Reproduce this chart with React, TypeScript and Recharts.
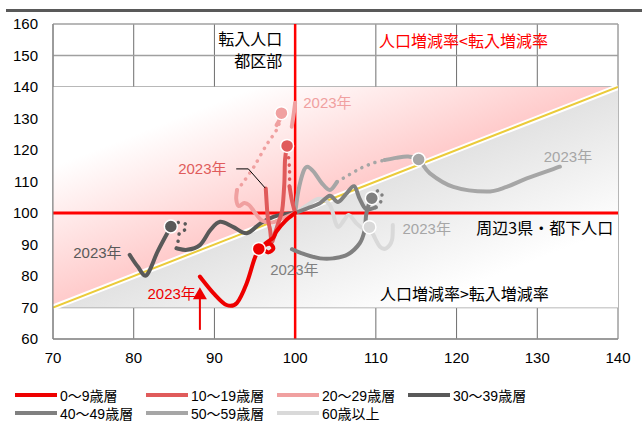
import React from 'react'
import {
  ComposedChart,
  XAxis,
  YAxis,
  CartesianGrid,
  Line,
  Area,
  ReferenceLine,
  ReferenceDot,
} from 'recharts'

type Pt = { x: number; y: number }
const pts = (a: number[][]): Pt[] => a.map(([x, y]) => ({ x, y }))

const xTicks = [70, 80, 90, 100, 110, 120, 130, 140]
const yTicks = [60, 70, 80, 90, 100, 110, 120, 130, 140, 150, 160]

// x: 転入増減率(指数), y: 人口増減率(指数) — each path runs from the base year to 2023
const age0Path = pts([
  [100, 100], [98.8, 97.5], [97.7, 94.2], [97.3, 92.2], [96.3, 90.3], [96.1, 88.6],
  [96.7, 87.5], [97.3, 88.7], [96.9, 90.2], [96.1, 89.6], [95.5, 88.6], [94.9, 85.0],
  [94.0, 77.7], [92.8, 71.5], [91.5, 70.8], [89.9, 74.5], [88.2, 79.8],
])
const age0Mark = { x: 95.5, y: 88.6 }

const age10PathA = pts([[100, 100], [99.6, 104], [99.3, 108.5]])
const age10Dotted = pts([[99.3, 108.5], [99.3, 114], [99.1, 120]])
const age10PathB = pts([
  [99.0, 121.3], [98.75, 117], [98.66, 109.4], [98.4, 101], [97.9, 96.7], [97.5, 93.6],
  [97.1, 90.8], [96.9, 94.6], [96.6, 98.8], [96.36, 107.8],
])
const age10Mark = { x: 99.0, y: 121.3 }

const age20PathA = pts([
  [100, 100], [98.6, 98.5], [97.2, 97.0], [95.9, 97.6], [95.0, 100.2], [94.3, 102.5],
  [93.7, 103.2], [93.0, 102.2], [92.7, 104.5], [92.8, 107.3],
])
const age20Dotted = pts([
  [92.8, 107.3], [93.5, 109.5], [94.9, 114.7], [96.4, 121.4], [97.8, 126.9], [98.3, 131.7],
])
const age20PathB = pts([[98.3, 130.5], [97.7, 127.9]])
const age20PathC = pts([[99.58, 127.4], [99.8, 131], [100, 135.0]])
const age20Mark = { x: 98.3, y: 131.7 }

const age30PathA = pts([
  [100, 100], [98.7, 99.6], [97.3, 98.8], [95.7, 96.7], [94.0, 93.6], [92.3, 95.6],
  [90.7, 97.2], [89.5, 94.6], [88.2, 89.8], [86.6, 88.3], [85.3, 88.8],
])
const age30Dotted = pts([
  [85.3, 88.8], [85.5, 91.1], [85.7, 93.8], [86.4, 94.8], [86.4, 96.5], [85.5, 97.0], [84.6, 95.7],
])
const age30PathB = pts([[84.6, 95.7], [83.0, 88], [81.6, 80.3], [80.5, 83], [79.5, 86.7]])
const age30Mark = { x: 84.6, y: 95.7 }

const age40PathA = pts([
  [100, 100], [101.5, 101.5], [103, 103], [104.3, 105.5], [105.3, 103.5], [106.3, 106],
  [107.3, 108.5], [108.0, 104.5], [108.8, 101.2], [110.0, 101.8],
])
const age40Dotted = pts([[110.0, 101.8], [110.7, 104.0], [110.7, 106.3], [110.2, 107.0], [109.5, 104.7]])
const age40PathB = pts([
  [109.5, 104.7], [109.1, 102.5], [108.8, 99.5], [108.6, 94.5], [108.0, 90.4], [106.5, 86.8],
  [104.7, 85.6], [103.1, 85.6], [101.3, 86.8], [99.6, 88.5],
])
const age40Mark = { x: 109.5, y: 104.7 }

const age50PathA = pts([
  [100, 100], [100.4, 107], [101.0, 113], [101.5, 114.7], [102.3, 113.1], [103.3, 109.5],
  [104.3, 107.3], [105.2, 109.9],
])
const age50Dotted = pts([[105.2, 109.9], [106.8, 112.3], [108.2, 114.3], [109.6, 115.8], [111.1, 116.8]])
const age50PathB = pts([
  [111.1, 116.8], [112.5, 117.5], [114.0, 117.9], [115.3, 117.0], [116.7, 112.6], [119.6, 108.3],
  [123.7, 106.8], [126.2, 108.3], [128.7, 111.0], [132.8, 114.7],
])
const age50Mark = { x: 115.3, y: 117.0 }

const age60Path = pts([
  [100, 100], [101.5, 102.5], [103, 104.5], [104.3, 102.5], [105.0, 97], [105.4, 95.6],
  [106.0, 97.5], [106.6, 99.4], [107.2, 98], [107.6, 96.7], [108.4, 95.2], [109.2, 95.5],
  [109.7, 93.0], [110.5, 89.3], [111.3, 88.8], [112.0, 91.4], [112.1, 96.2],
])
const age60Mark = { x: 109.2, y: 95.5 }

// shaded halves either side of the 45° line
const upperBand = [{ x: 70, band: [70, 140] }, { x: 140, band: [140, 140] }]
const lowerBand = [{ x: 70, band: [70, 70] }, { x: 140, band: [70, 140] }]
const diagonal = pts([[70, 70], [140, 140]])

// uniform Catmull-Rom through every point, used as a d3 curve factory
function catmullRom(context: any) {
  let buf: number[][] = []
  return {
    areaStart() {},
    areaEnd() {},
    lineStart() {
      buf = []
    },
    point(x: number, y: number) {
      buf.push([+x, +y])
    },
    lineEnd() {
      const n = buf.length
      if (!n) return
      context.moveTo(buf[0][0], buf[0][1])
      for (let i = 0; i < n - 1; i++) {
        const p0 = buf[Math.max(i - 1, 0)]
        const p1 = buf[i]
        const p2 = buf[i + 1]
        const p3 = buf[Math.min(i + 2, n - 1)]
        context.bezierCurveTo(
          p1[0] + (p2[0] - p0[0]) / 6,
          p1[1] + (p2[1] - p0[1]) / 6,
          p2[0] - (p3[0] - p1[0]) / 6,
          p2[1] - (p3[1] - p1[1]) / 6,
          p2[0],
          p2[1]
        )
      }
    },
  }
}

const series = [
  { name: '60歳以上', color: '#D9D9D9', solid: [age60Path], dotted: [], mark: age60Mark, label: { x: 116.3, y: 95.2, color: '#A6A6A6' } },
  { name: '50～59歳層', color: '#A6A6A6', solid: [age50PathA, age50PathB], dotted: [age50Dotted], mark: age50Mark, label: { x: 133.8, y: 117.8, color: '#A6A6A6' } },
  { name: '40～49歳層', color: '#808080', solid: [age40PathA, age40PathB], dotted: [age40Dotted], mark: age40Mark, label: { x: 99.9, y: 82.2, color: '#808080' } },
  { name: '30～39歳層', color: '#595959', solid: [age30PathA, age30PathB], dotted: [age30Dotted], mark: age30Mark, label: { x: 75.5, y: 87.6, color: '#595959' } },
  { name: '20～29歳層', color: '#F0A0A0', solid: [age20PathA, age20PathB, age20PathC], dotted: [age20Dotted], mark: age20Mark, label: { x: 104.0, y: 135.2, color: '#F0A0A0' } },
  { name: '10～19歳層', color: '#E05B5B', solid: [age10PathA, age10PathB], dotted: [age10Dotted], mark: age10Mark, label: { x: 88.5, y: 114.0, color: '#E05B5B' } },
  { name: '0～9歳層', color: '#EE0000', solid: [age0Path], dotted: [], mark: age0Mark, label: { x: 84.7, y: 74.6, color: '#EE0000' } },
]

const legendOrder = [...series].reverse()

const notes = [
  { text: '転入人口', x: 98.4, y: 155.6, anchor: 'end', color: '#000' },
  { text: '都区部', x: 98.4, y: 148.6, anchor: 'end', color: '#000' },
  { text: '人口増減率<転入増減率', x: 110.4, y: 154.9, anchor: 'start', color: '#FF0000' },
  { text: '周辺3県・都下人口', x: 139.4, y: 95.6, anchor: 'end', color: '#000' },
  { text: '人口増減率>転入増減率', x: 110.5, y: 74.6, anchor: 'start', color: '#000' },
]

const sans = '"Liberation Sans", Arial, "Noto Sans CJK JP", sans-serif'
const cjk = '"Noto Sans CJK JP", "Liberation Sans", sans-serif'

const textShape = (text: string, color: string, anchor: string, size: number, family: string) =>
  (p: any) => (
    <text
      x={p.cx}
      y={p.cy}
      textAnchor={anchor}
      dominantBaseline="central"
      fontSize={size}
      fontFamily={family}
      fill={color}
    >
      {text}
    </text>
  )

const arrowHead = (p: any) => (
  <polygon
    points={`${p.cx},${p.cy - 6} ${p.cx - 7},${p.cy + 6} ${p.cx + 7},${p.cy + 6}`}
    fill="#EE0000"
  />
)

export default function App() {
  return (
    <div style={{ position: 'absolute', left: 0, top: 0, width: 642, height: 426, background: '#fff' }}>
      <div style={{ position: 'absolute', left: 6, top: 9, width: 636, height: 3, background: '#595959' }} />
      <ComposedChart width={642} height={370} margin={{ top: 24, right: 24, left: 0, bottom: 0 }}>
        <defs>
          <linearGradient id="pinkFade" x1="1" y1="1" x2="0" y2="0">
            <stop offset="0.5" stopColor="#FFCACA" />
            <stop offset="0.82" stopColor="#FFFFFF" />
          </linearGradient>
          <linearGradient id="grayFade" x1="0" y1="0" x2="1" y2="1">
            <stop offset="0.5" stopColor="#E2E2E2" />
            <stop offset="0.82" stopColor="#FFFFFF" />
          </linearGradient>
        </defs>
        <XAxis
          type="number"
          dataKey="x"
          domain={[70, 140]}
          ticks={xTicks}
          interval={0}
          allowDataOverflow
          height={31}
          tickLine={false}
          tickMargin={7}
          axisLine={{ stroke: '#808080' }}
          tick={{ fill: '#000', fontSize: 15, fontFamily: sans }}
        />
        <YAxis
          type="number"
          dataKey="y"
          domain={[60, 160]}
          ticks={yTicks}
          interval={0}
          allowDataOverflow
          width={53}
          tickLine={false}
          tickMargin={9}
          axisLine={{ stroke: '#808080' }}
          tick={{ fill: '#000', fontSize: 15, fontFamily: sans }}
        />
        <Area data={upperBand} dataKey="band" type="linear" stroke="none" fill="url(#pinkFade)" fillOpacity={1} isAnimationActive={false} legendType="none" />
        <Area data={lowerBand} dataKey="band" type="linear" stroke="none" fill="url(#grayFade)" fillOpacity={1} isAnimationActive={false} legendType="none" />
        <CartesianGrid horizontal={false} stroke="#6E6E6E" strokeWidth={1} />
        <CartesianGrid vertical={false} stroke="#A0A0A0" strokeWidth={1.5} />
        <Line data={diagonal} dataKey="y" type="linear" stroke="#FFFFFF" strokeWidth={6} dot={false} activeDot={false} isAnimationActive={false} legendType="none" />
        <Line data={diagonal} dataKey="y" type="linear" stroke="#EBCB3A" strokeWidth={2} dot={false} activeDot={false} isAnimationActive={false} legendType="none" />
        <ReferenceLine x={100} stroke="#FF0000" strokeWidth={2.5} />
        <ReferenceLine y={100} stroke="#FF0000" strokeWidth={3} />

        {series.map((s, si) => (
          <React.Fragment key={s.name}>
            {s.solid.map((seg, i) => (
              <Line
                key={`${si}-s${i}`}
                data={seg}
                dataKey="y"
                type={catmullRom as any}
                stroke={s.color}
                strokeWidth={4}
                strokeLinecap="round"
                dot={false}
                activeDot={false}
                isAnimationActive={false}
                legendType="none"
              />
            ))}
            {s.dotted.map((seg, i) => (
              <Line
                key={`${si}-d${i}`}
                data={seg}
                dataKey="y"
                type={catmullRom as any}
                stroke={s.color}
                strokeWidth={3.5}
                strokeLinecap="round"
                strokeDasharray="0.1 7"
                dot={false}
                activeDot={false}
                isAnimationActive={false}
                legendType="none"
              />
            ))}
            <ReferenceDot x={s.mark.x} y={s.mark.y} r={6.5} fill={s.color} stroke="#FFFFFF" strokeWidth={1.5} />
            <ReferenceDot
              x={s.label.x}
              y={s.label.y}
              r={0}
              shape={textShape('2023年', s.label.color, 'middle', 15, sans)}
            />
          </React.Fragment>
        ))}

        {/* pointer to the 2023 end of 10～19 */}
        <ReferenceLine segment={[{ x: 92.7, y: 114.0 }, { x: 94.2, y: 114.0 }]} stroke="#000" strokeWidth={1} />
        <ReferenceLine segment={[{ x: 94.2, y: 114.0 }, { x: 96.3, y: 107.9 }]} stroke="#000" strokeWidth={1} />

        {/* arrow up to the 2023 end of 0～9 */}
        <ReferenceLine segment={[{ x: 88.2, y: 62.9 }, { x: 88.2, y: 73 }]} stroke="#EE0000" strokeWidth={2} />
        <ReferenceDot x={88.2} y={74.5} r={0} shape={arrowHead} />

        {notes.map((n) => (
          <ReferenceDot
            key={n.text}
            x={n.x}
            y={n.y}
            r={0}
            shape={textShape(n.text, n.color, n.anchor, 16, cjk)}
          />
        ))}
      </ComposedChart>

      <div style={{ position: 'absolute', left: 0, top: 386, width: 642, fontFamily: sans, fontSize: 14, color: '#000' }}>
        {legendOrder.map((s, i) => (
          <div
            key={s.name}
            style={{
              position: 'absolute',
              left: 15 + (i % 4) * 131,
              top: Math.floor(i / 4) * 18,
              display: 'flex',
              alignItems: 'center',
              height: 18,
              whiteSpace: 'nowrap',
            }}
          >
            <span style={{ display: 'inline-block', width: 42, height: 3.5, background: s.color, marginRight: 3 }} />
            <span>{s.name}</span>
          </div>
        ))}
      </div>
    </div>
  )
}
